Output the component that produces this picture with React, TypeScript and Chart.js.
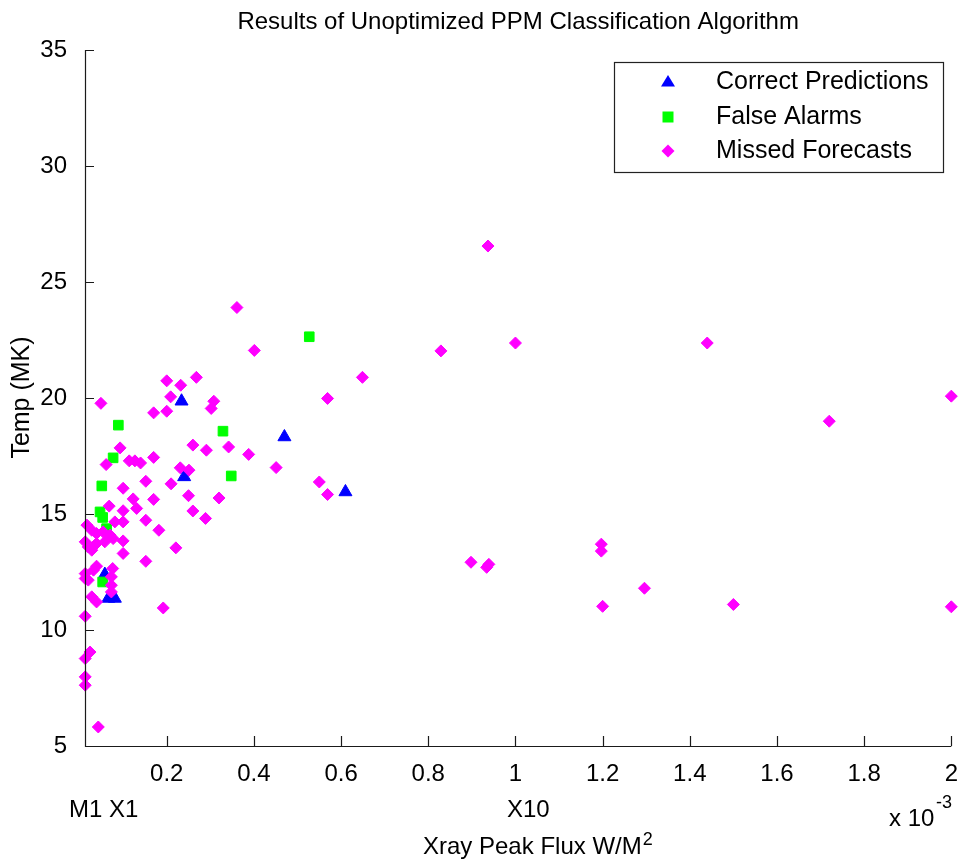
import React, { useEffect, useRef } from 'react';
import { Chart, registerables } from 'chart.js';

Chart.register(...registerables);

const chartTitle = 'Results of Unoptimized PPM Classification Algorithm';
const yAxisTitle = 'Temp (MK)';
const xAxisTitle = 'Xray Peak Flux W/M';
const seriesLabels = ['Correct Predictions', 'False Alarms', 'Missed Forecasts'];

const xTicks = [0.2, 0.4, 0.6, 0.8, 1.0, 1.2, 1.4, 1.6, 1.8, 2.0];
const yTicks = [5, 10, 15, 20, 25, 30, 35];

const correctX = [0.234, 0.240, 0.470, 0.610, 0.058, 0.066, 0.081];
const correctY = [19.86, 16.60, 18.32, 15.95, 12.39, 11.36, 11.36];

const falseX = [0.527, 0.089, 0.329, 0.077, 0.348, 0.051, 0.047, 0.053, 0.062, 0.053];
const falseY = [22.64, 18.83, 18.57, 17.42, 16.64, 16.21, 15.09, 14.85, 14.37, 12.07];

const missedX = [
  0.361, 0.401, 0.829, 0.649, 0.268, 0.200, 0.232, 0.209, 0.308, 0.302,
  0.049, 0.170, 0.200, 0.569, 0.093, 0.260, 0.291, 0.342, 0.388, 0.451,
  0.061, 0.114, 0.127, 0.140, 0.170, 0.231, 0.251, 0.100, 0.152, 0.210,
  0.123, 0.131, 0.170, 0.250, 0.320, 0.068, 0.100, 0.260, 0.289, 0.152,
  0.182, 0.081, 0.100, 0.017, 0.028, 0.039, 0.054, 0.070, 0.077, 0.058,
  0.039, 0.020, 0.013, 0.028, 0.100, 0.100, 0.221, 0.152, 0.039, 0.032,
  0.013, 0.013, 0.020, 0.076, 0.073, 0.073, 0.073, 0.028, 0.039, 0.192,
  0.013, 0.024, 0.013, 0.013, 0.013, 0.043,
  0.937, 1.000, 1.440, 2.000, 1.720, 0.898, 0.934, 0.939, 1.197, 1.197,
  1.296, 1.200, 1.500, 2.000, 0.550, 0.569,
];
const missedY = [
  23.90, 22.05, 22.03, 20.89, 20.89, 20.74, 20.55, 20.05, 19.86, 19.55,
  19.77, 19.36, 19.43, 19.98, 17.85, 17.97, 17.75, 17.89, 17.57, 17.00,
  17.13, 17.29, 17.29, 17.20, 17.44, 16.99, 16.89, 16.11, 16.41, 16.30,
  15.65, 15.24, 15.63, 15.79, 15.69, 15.34, 15.14, 15.13, 14.81, 14.73,
  14.30, 14.66, 14.66, 14.52, 14.30, 14.16, 14.23, 14.09, 13.94, 13.80,
  13.73, 13.58, 13.80, 13.44, 13.84, 13.30, 13.54, 12.96, 12.75, 12.58,
  12.43, 12.22, 12.15, 12.65, 12.29, 11.93, 11.64, 11.43, 11.21, 10.95,
  10.59, 9.05, 8.77, 7.98, 7.62, 5.82,
  26.55, 22.37, 22.37, 20.08, 19.00, 12.92, 12.70, 12.83, 13.70, 13.40,
  11.80, 11.02, 11.10, 11.00, 16.38, 15.84,
];

const BLUE = '#0000ff';
const GREEN = '#00ff00';
const MAGENTA = '#ff00ff';
const FONT = '"Liberation Sans", Arial, Helvetica, sans-serif';

const toPoints = (xs: number[], ys: number[]) => xs.map((x, i) => ({ x, y: ys[i] }));

function drawMarker(ctx: CanvasRenderingContext2D, kind: string, x: number, y: number, color: string) {
  ctx.save();
  ctx.fillStyle = color;
  ctx.beginPath();
  if (kind === 'triangle') {
    ctx.moveTo(x, y - 7);
    ctx.lineTo(x + 7, y + 4.5);
    ctx.lineTo(x - 7, y + 4.5);
  } else if (kind === 'rect') {
    ctx.rect(x - 5.5, y - 5.5, 11, 11);
  } else {
    ctx.moveTo(x, y - 6.5);
    ctx.lineTo(x + 6.5, y);
    ctx.lineTo(x, y + 6.5);
    ctx.lineTo(x - 6.5, y);
  }
  ctx.closePath();
  ctx.fill();
  ctx.restore();
}

const decorPlugin = {
  id: 'decor',
  afterDraw(chart: any) {
    const ctx: CanvasRenderingContext2D = chart.ctx;
    const { left, right, top, bottom } = chart.chartArea;
    const xs = chart.scales.x;
    const ys = chart.scales.y;
    ctx.save();
    // axes lines
    ctx.strokeStyle = '#1a1a1a';
    ctx.lineWidth = 1.2;
    ctx.beginPath();
    ctx.moveTo(left + 0.5, top);
    ctx.lineTo(left + 0.5, bottom + 0.5);
    ctx.lineTo(right, bottom + 0.5);
    ctx.stroke();
    // inward ticks
    ctx.beginPath();
    yTicks.forEach((v) => {
      const py = Math.round(ys.getPixelForValue(v)) + 0.5;
      ctx.moveTo(left, py);
      ctx.lineTo(left + 9, py);
    });
    xTicks.forEach((v) => {
      const px = Math.round(xs.getPixelForValue(v)) + 0.5;
      ctx.moveTo(px, bottom);
      ctx.lineTo(px, bottom - 10);
    });
    ctx.stroke();

    ctx.fillStyle = '#000';
    // title
    ctx.font = `24px ${FONT}`;
    ctx.textAlign = 'center';
    ctx.textBaseline = 'alphabetic';
    ctx.fillText(chartTitle, (left + right) / 2, 29);

    // y title
    ctx.save();
    ctx.translate(22, 397.5);
    ctx.rotate(-Math.PI / 2);
    ctx.font = `25px ${FONT}`;
    ctx.textAlign = 'center';
    ctx.textBaseline = 'middle';
    ctx.fillText(yAxisTitle, 0, 0);
    ctx.restore();

    // bottom annotations
    ctx.textAlign = 'left';
    ctx.textBaseline = 'alphabetic';
    ctx.font = `24px ${FONT}`;
    ctx.fillText('M1 X1', 69, 817);
    ctx.fillText('X10', 507, 817);
    ctx.fillText('x 10', 889, 826);
    ctx.font = `18px ${FONT}`;
    ctx.fillText('-3', 936, 808);

    ctx.font = `24px ${FONT}`;
    ctx.fillText(xAxisTitle, 423, 854);
    const w = ctx.measureText(xAxisTitle).width;
    ctx.font = `18px ${FONT}`;
    ctx.fillText('2', 423 + w + 1, 845);

    // legend
    ctx.fillStyle = '#fff';
    ctx.fillRect(614, 62, 329, 110);
    ctx.strokeStyle = '#222';
    ctx.lineWidth = 1.2;
    ctx.strokeRect(614.5, 62.5, 329, 110);
    const rows = [82, 117, 151];
    const kinds = ['triangle', 'rect', 'diamond'];
    const colors = [BLUE, GREEN, MAGENTA];
    ctx.font = `25px ${FONT}`;
    ctx.textBaseline = 'middle';
    ctx.textAlign = 'left';
    rows.forEach((ry, i) => {
      drawMarker(ctx, kinds[i], 668, ry, colors[i]);
      ctx.fillStyle = '#000';
      ctx.fillText(seriesLabels[i], 716, ry);
    });
    ctx.restore();
  },
};

export default function App() {
  const canvasRef = useRef<HTMLCanvasElement | null>(null);

  useEffect(() => {
    const canvas = canvasRef.current;
    if (!canvas) return;
    const chart = new Chart(canvas, {
      type: 'scatter',
      data: {
        datasets: [
          {
            label: seriesLabels[0],
            data: toPoints(correctX, correctY),
            pointStyle: 'triangle',
            pointRadius: 7.5,
            borderWidth: 1,
            backgroundColor: BLUE,
            borderColor: BLUE,
            order: 3,
            clip: false,
          },
          {
            label: seriesLabels[1],
            data: toPoints(falseX, falseY),
            pointStyle: 'rect',
            pointRadius: 6.8,
            borderWidth: 1,
            backgroundColor: GREEN,
            borderColor: GREEN,
            order: 2,
            clip: false,
          },
          {
            label: seriesLabels[2],
            data: toPoints(missedX, missedY),
            pointStyle: 'rectRot',
            pointRadius: 6,
            borderWidth: 1,
            backgroundColor: MAGENTA,
            borderColor: MAGENTA,
            order: 1,
            clip: false,
          },
        ] as any,
      },
      options: {
        animation: false,
        responsive: false,
        maintainAspectRatio: false,
        layout: { padding: { top: 50, right: 10, bottom: 0, left: 0 } },
        plugins: {
          legend: { display: false },
          title: { display: false },
          tooltip: { enabled: false },
        },
        scales: {
          x: {
            type: 'linear',
            min: 0.0125,
            max: 2,
            grid: { display: false },
            border: { display: false },
            afterBuildTicks: (scale: any) => {
              scale.ticks = xTicks.map((v) => ({ value: v }));
            },
            afterFit: (scale: any) => {
              scale.height = 119;
            },
            ticks: {
              padding: 6,
              color: '#000',
              font: { family: FONT, size: 24 },
              maxRotation: 0,
              autoSkip: false,
              callback: (v: any) => String(Number(Number(v).toFixed(1))),
            },
          },
          y: {
            type: 'linear',
            min: 5,
            max: 35,
            grid: { display: false },
            border: { display: false },
            afterBuildTicks: (scale: any) => {
              scale.ticks = yTicks.map((v) => ({ value: v }));
            },
            afterFit: (scale: any) => {
              scale.width = 85;
            },
            ticks: {
              padding: 10,
              color: '#000',
              font: { family: FONT, size: 24 },
              callback: (v: any) => String(v),
            },
          },
        },
      } as any,
      plugins: [decorPlugin],
    });
    return () => chart.destroy();
  }, []);

  return (
    <div style={{ position: 'fixed', left: 0, top: 0, width: 964, height: 865, background: '#fff' }}>
      <canvas ref={canvasRef} width={964} height={865} style={{ display: 'block' }} />
    </div>
  );
}
